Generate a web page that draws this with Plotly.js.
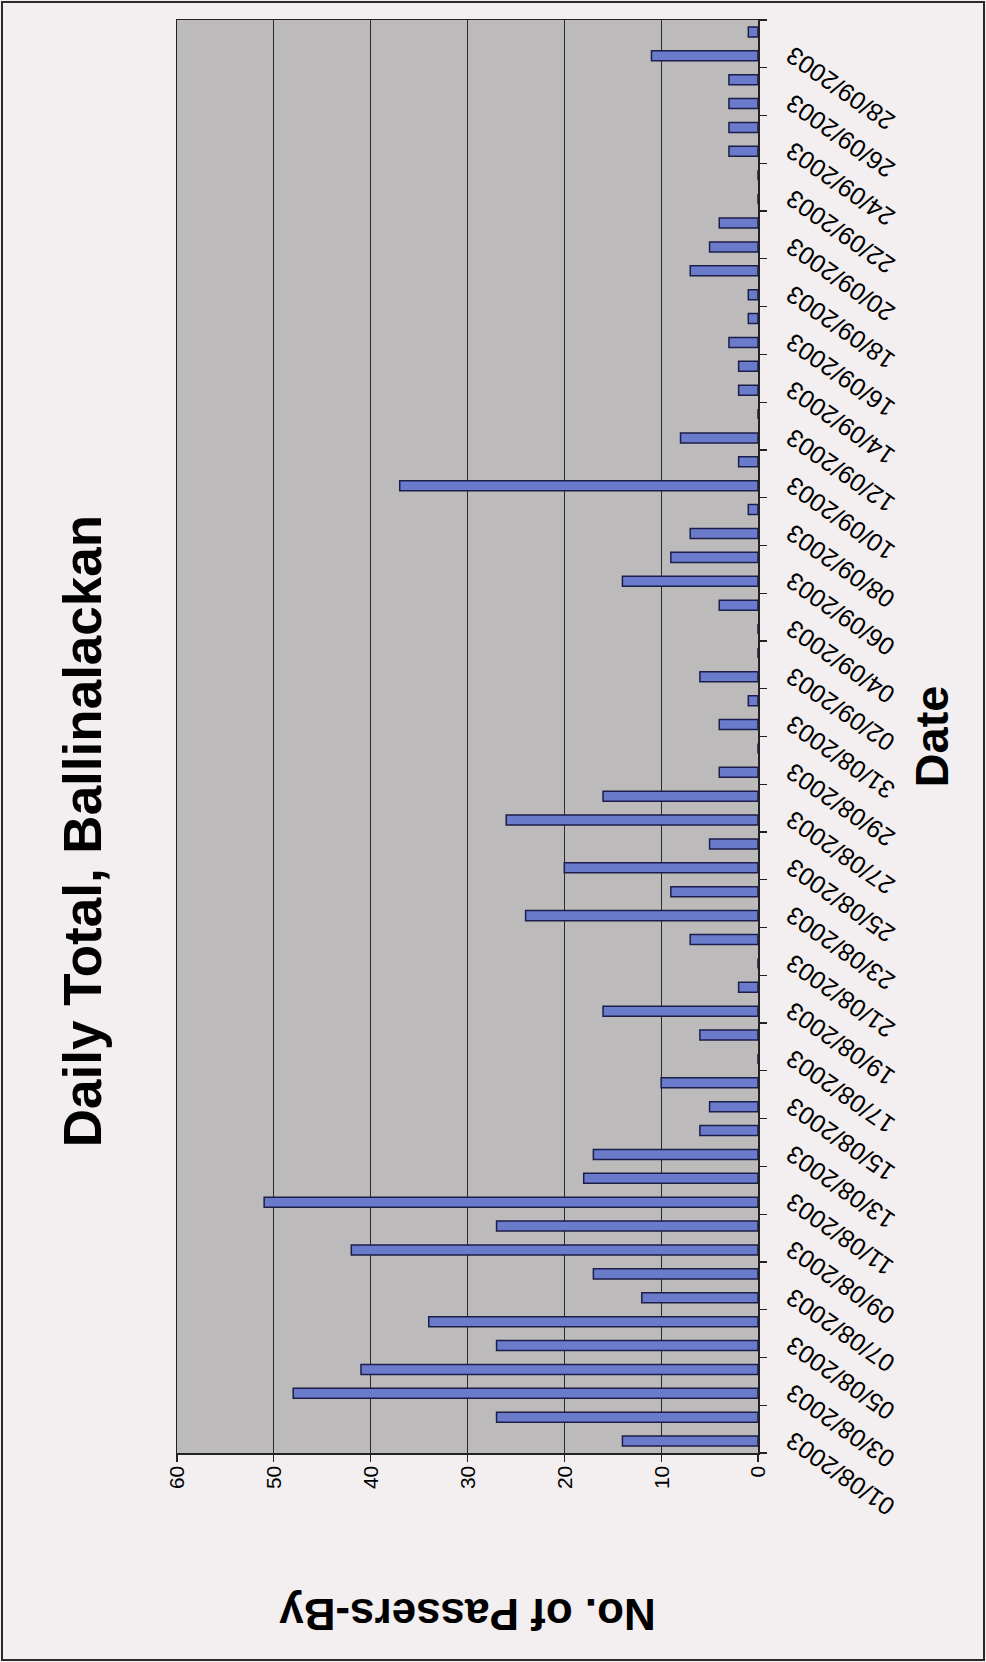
<!DOCTYPE html>
<html>
<head>
<meta charset="utf-8">
<script src="https://cdn.plot.ly/plotly-3.0.1.min.js"></script>
<style>
  html, body { margin: 0; padding: 0; width: 986px; height: 1662px; overflow: hidden; background: #f3eff0; }
  #chart { position: absolute; left: 0; top: 0; width: 1662px; height: 986px;
           transform-origin: 0 0; transform: translate(0px, 1662px) rotate(-90deg); }
  #frame { position: absolute; left: 1px; top: 1px; width: 980px; height: 1656px;
           border: 2px solid #2a2a2a; pointer-events: none; }
</style>
</head>
<body>
<div id="chart"></div>
<div id="frame"></div>
<script>
// ---- data ----
const dates = [
  "01/08/2003","02/08/2003","03/08/2003","04/08/2003","05/08/2003","06/08/2003","07/08/2003","08/08/2003",
  "09/08/2003","10/08/2003","11/08/2003","12/08/2003","13/08/2003","14/08/2003","15/08/2003","16/08/2003",
  "17/08/2003","18/08/2003","19/08/2003","20/08/2003","21/08/2003","22/08/2003","23/08/2003","24/08/2003",
  "25/08/2003","26/08/2003","27/08/2003","28/08/2003","29/08/2003","30/08/2003","31/08/2003",
  "01/09/2003","02/09/2003","03/09/2003","04/09/2003","05/09/2003","06/09/2003","07/09/2003","08/09/2003",
  "09/09/2003","10/09/2003","11/09/2003","12/09/2003","13/09/2003","14/09/2003","15/09/2003","16/09/2003",
  "17/09/2003","18/09/2003","19/09/2003","20/09/2003","21/09/2003","22/09/2003","23/09/2003","24/09/2003",
  "25/09/2003","26/09/2003","27/09/2003","28/09/2003","29/09/2003"
];
const passersBy = [
  14, 27, 48, 41, 27, 34, 12, 17, 42, 27, 51, 18, 17, 6, 5, 10, 0, 6, 16, 2,
  0, 7, 24, 9, 20, 5, 26, 16, 4, 0, 4,
  1, 6, 0, 0, 4, 14, 9, 7, 1, 37, 2, 8, 0, 2, 2, 3, 1, 1, 7, 5,
  4, 0, 0, 3, 3, 3, 3, 11, 1
];
const tickLabels = dates.filter((d, i) => i % 2 === 0);
const yTicks = [0, 10, 20, 30, 40, 50, 60];

// ---- helpers ----
const DAY = 86400000;
function toMs(d) { const p = d.split('/'); return Date.UTC(+p[2], +p[1] - 1, +p[0]); }
function fmt(ms) { return new Date(ms).toISOString().slice(0, 19).replace('T', ' '); }

const xVals = dates.map(d => fmt(toMs(d)));
const tickVals = tickLabels.map(d => fmt(toMs(d)));
const minorVals = tickLabels.map(d => fmt(toMs(d) - DAY / 2));
minorVals.push(fmt(toMs(dates[dates.length - 1]) + DAY / 2));
const xRange = [fmt(toMs(dates[0]) - DAY / 2), fmt(toMs(dates[dates.length - 1]) + DAY / 2)];

const FONT = 'Arial, "Liberation Sans", sans-serif';

const trace = {
  type: 'bar',
  x: xVals,
  y: passersBy,
  width: 0.42 * DAY,
  marker: { color: '#6b7bcb', line: { color: '#1c1d48', width: 1.5 } },
  hoverinfo: 'x+y'
};

const layout = {
  width: 1662,
  height: 986,
  margin: { l: 209, r: 20, t: 177, b: 228, pad: 0 },
  paper_bgcolor: '#f3eff0',
  plot_bgcolor: '#bcbabb',
  showlegend: false,
  font: { family: FONT, color: '#000' },
  title: {
    text: 'Daily Total, Ballinalackan',
    font: { family: FONT, size: 53, color: '#000', weight: 'bold' },
    x: 0.5, xref: 'container', xanchor: 'center',
    y: 1 - 82 / 986, yref: 'container', yanchor: 'middle'
  },
  xaxis: {
    type: 'date',
    range: xRange,
    tickmode: 'array',
    tickvals: tickVals,
    ticktext: tickLabels,
    tickangle: -55,
    ticks: '',
    ticklabelstandoff: 10,
    tickfont: { family: FONT, size: 25, color: '#000' },
    showgrid: false,
    showline: true, linecolor: '#222', linewidth: 1.5, mirror: true,
    minor: { tickmode: 'array', tickvals: minorVals, ticks: 'outside', ticklen: 7,
             tickcolor: '#222', tickwidth: 1.2, showgrid: false },
    title: { text: 'Date', font: { family: FONT, size: 47, color: '#000', weight: 'bold' }, standoff: 16 }
  },
  yaxis: {
    range: [0, 60],
    tickmode: 'array',
    tickvals: yTicks,
    ticks: 'outside', ticklen: 7, tickcolor: '#222', tickwidth: 1.2,
    tickfont: { family: FONT, size: 21, color: '#000' },
    showgrid: true, gridcolor: '#2a2a2a', gridwidth: 1.2,
    zeroline: false,
    showline: true, linecolor: '#222', linewidth: 1.5, mirror: true,
    title: { text: 'No. of Passers-By', font: { family: FONT, size: 44, color: '#000', weight: 'bold' }, standoff: 95 }
  }
};

Plotly.newPlot('chart', [trace], layout, { displayModeBar: false, staticPlot: true });
</script>
</body>
</html>
